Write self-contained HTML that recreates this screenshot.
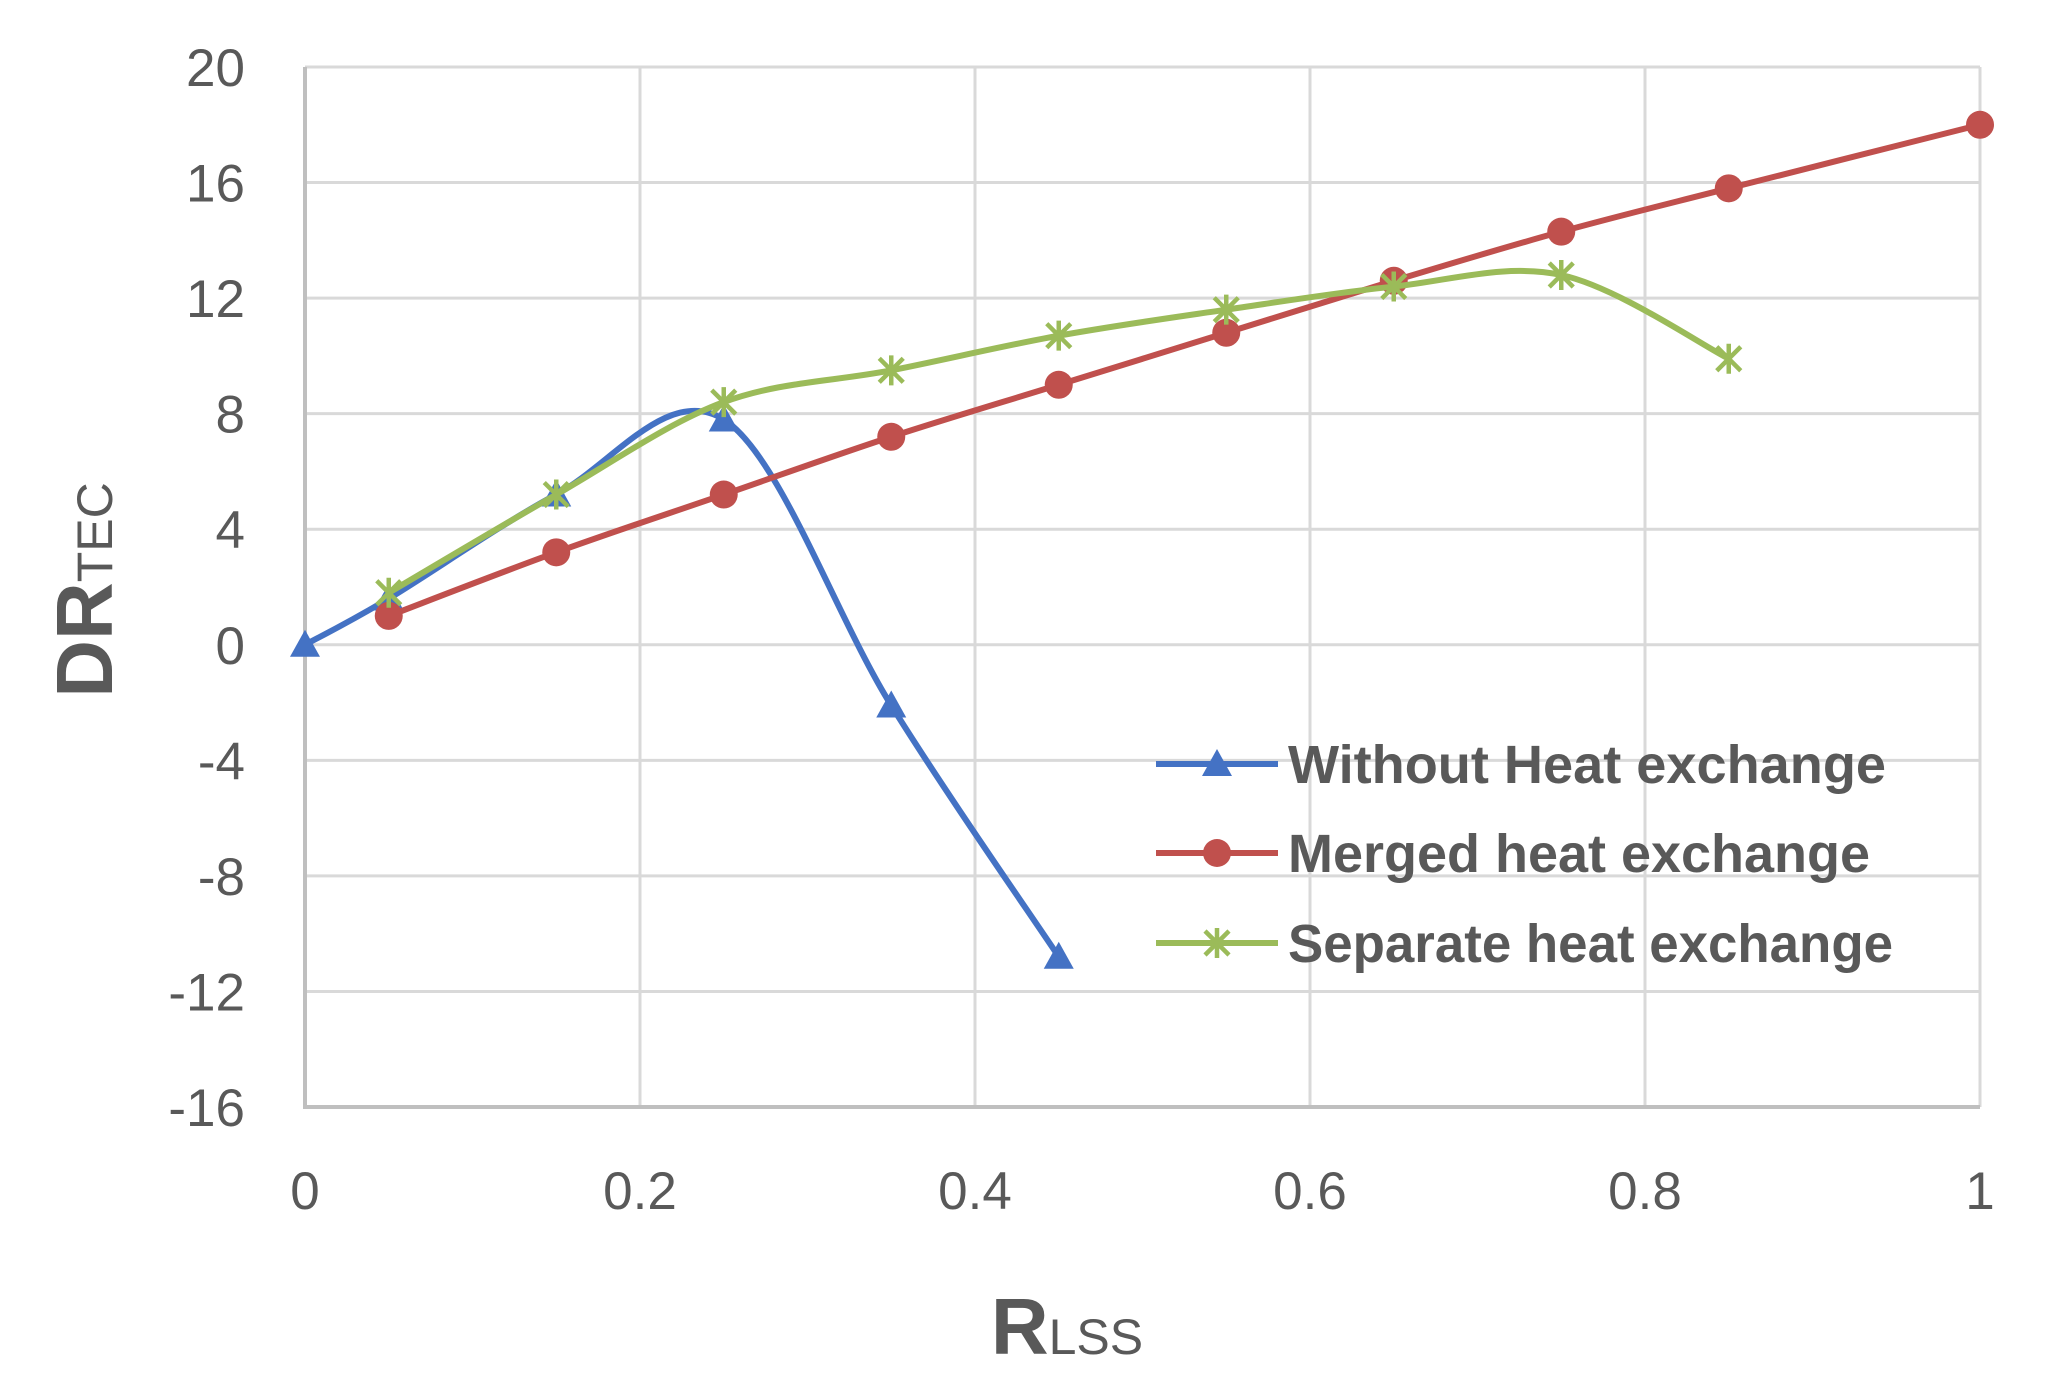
<!DOCTYPE html>
<html><head><meta charset="utf-8"><style>
html,body{margin:0;padding:0;background:#fff;}
svg{display:block;font-family:"Liberation Sans",sans-serif;}
</style></head><body>
<svg id="chart" width="2055" height="1393" viewBox="0 0 2055 1393" xmlns="http://www.w3.org/2000/svg">
<g id="grid"></g>
<g id="axes"></g>
<g id="series"></g>
<text x="1067" y="1354" text-anchor="middle" fill="#595959" font-weight="bold" font-size="80">R<tspan font-size="50" font-weight="normal">LSS</tspan></text>
<text transform="translate(112,590) rotate(-90)" text-anchor="middle" fill="#595959" font-weight="bold" font-size="80">DR<tspan font-size="50" font-weight="normal">TEC</tspan></text>
<g id="legend"></g>
</svg>
<script>
const xTicks=[0,0.2,0.4,0.6,0.8,1];
const xTickLabels=["0","0.2","0.4","0.6","0.8","1"];
const yTicks=[20,16,12,8,4,0,-4,-8,-12,-16];
const blueX=[0,0.05,0.15,0.25,0.35,0.45];
const blueY=[0,1.6,5.2,7.8,-2.1,-10.8];
const redX=[0.05,0.15,0.25,0.35,0.45,0.55,0.65,0.75,0.85,1];
const redY=[1.0,3.2,5.2,7.2,9.0,10.8,12.6,14.3,15.8,18.0];
const greenX=[0.05,0.15,0.25,0.35,0.45,0.55,0.65,0.75,0.85];
const greenY=[1.8,5.2,8.4,9.5,10.7,11.6,12.4,12.8,9.9];
const seriesNames=["Without Heat exchange","Merged heat exchange","Separate heat exchange"];

const NS="http://www.w3.org/2000/svg";
const L=305,R=1980,T=67,B=1107;
const sx=v=>L+(v-0)/(1-0)*(R-L);
const sy=v=>T+(20-v)/(36)*(B-T);
function mk(tag,attrs,parent){const e=document.createElementNS(NS,tag);for(const k in attrs)e.setAttribute(k,attrs[k]);parent.appendChild(e);return e;}
const grid=document.getElementById('grid'),axes=document.getElementById('axes'),ser=document.getElementById('series'),leg=document.getElementById('legend');
yTicks.forEach(v=>{
  const l=mk('line',{x1:L,x2:R,y1:sy(v),y2:sy(v),stroke:'#d9d9d9','stroke-width':3},grid);
  
  
  const t=mk('text',{x:245,y:sy(v)+19,'text-anchor':'end','font-size':53,fill:'#595959'},axes);
  t.textContent=String(v);
  
  
});
xTicks.forEach((v,i)=>{
  const l=mk('line',{x1:sx(v),x2:sx(v),y1:T,y2:B,stroke:'#d9d9d9','stroke-width':3},grid);
  
  
  const t=mk('text',{x:sx(v),y:1209,'text-anchor':'middle','font-size':53,fill:'#595959'},axes);
  t.textContent=xTickLabels[i];
  
  
});
const ax=mk('path',{d:`M${L},${T} V${B} H${R}`,fill:'none',stroke:'#bfbfbf','stroke-width':4},axes);



function smooth(pts){
  let d=`M${pts[0][0]},${pts[0][1]}`;
  for(let i=0;i<pts.length-1;i++){
    const p0=pts[i-1]||pts[i],p1=pts[i],p2=pts[i+1],p3=pts[i+2]||p2,k=1/6;
    d+=` C${p1[0]+(p2[0]-p0[0])*k},${p1[1]+(p2[1]-p0[1])*k} ${p2[0]-(p3[0]-p1[0])*k},${p2[1]-(p3[1]-p1[1])*k} ${p2[0]},${p2[1]}`;
  }
  return d;
}
function marker(type,x,y,color,parent){
  let m;
  if(type==='tri'){m=mk('path',{d:`M${x},${y-15} L${x+15},${y+12} L${x-15},${y+12} Z`,fill:color},parent);}
  else if(type==='circ'){m=mk('circle',{cx:x,cy:y,r:14,fill:color},parent);}
  else{m=mk('path',{d:`M${x-12},${y-12} L${x+12},${y+12} M${x+12},${y-12} L${x-12},${y+12} M${x},${y-15} V${y+15}`,stroke:color,'stroke-width':4.5,fill:'none'},parent);}
  return m;
}
const defs=[[blueX,blueY,'#4472C4','tri','blue'],[redX,redY,'#C0504D','circ','red'],[greenX,greenY,'#9BBB59','star','green']];
defs.forEach(([xs,ys,c,mt,nm])=>{
  const g=mk('g',{},ser);
  
  
  const pts=xs.map((x,i)=>[sx(x),sy(ys[i])]);
  const p=mk('path',{d:smooth(pts),fill:'none',stroke:c,'stroke-width':6,'stroke-linejoin':'round'},g);
  
  
  pts.forEach(pt=>{
    const m=marker(mt,pt[0],pt[1],c,g);
    
    
  });
});
const ly=[764,853,943];
const lw=[598,582,605];
defs.forEach(([xs,ys,c,mt,nm],i)=>{
  const g=mk('g',{},leg);
  
  
  mk('line',{x1:1156,x2:1278,y1:ly[i],y2:ly[i],stroke:c,'stroke-width':6},g);
  marker(mt,1217,ly[i],c,g);
  const t=mk('text',{x:1288,y:ly[i]+19,'font-size':54,'font-weight':'bold',fill:'#595959',textLength:lw[i],lengthAdjust:'spacingAndGlyphs'},g);
  t.textContent=seriesNames[i];
});
</script>
</body></html>
